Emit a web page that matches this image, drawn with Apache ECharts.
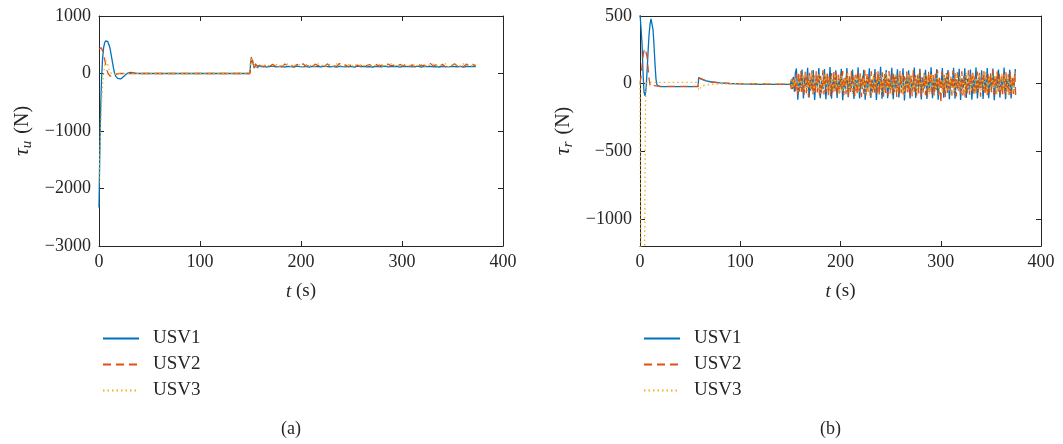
<!DOCTYPE html>
<html>
<head>
<meta charset="utf-8">
<script src="https://cdn.jsdelivr.net/npm/echarts@6/dist/echarts.min.js"></script>
<style>
  html, body { margin: 0; padding: 0; background: #fff; }
  #chart { width: 1063px; height: 444px; }
</style>
</head>
<body>
<div id="chart"></div>
<script>
// tick labels
const timeTicks = [0, 100, 200, 300, 400];
const tuTicks = [-3000, -2000, -1000, 0, 1000];
const trTicks = [-1000, -500, 0, 500];

// (a) tau_u : start-up transient and the step at t = 150 s, [t, value]
const tuUsv1Head = [[0,-2330],[0.7,-1500],[1.5,-700],[2.5,-100],[3.5,250],[4.5,440],[5.5,530],[6.5,565],[7.5,570],[8.5,560],[9.5,530],[10.5,470],[11.5,380],[12.5,280],[13.5,180],[14.5,80],[15.5,0],[16.5,-45],[17.5,-70],[18.5,-85],[20,-95],[21.5,-95],[23,-80],[25,-45],[27,-10],[29,10],[31,18],[33,15],[36,5],[40,0],[149.5,0],[150,150],[151,260],[152,200],[153,150],[154,100],[155,160],[156,130],[157,95],[158,140],[159,120]];
const tuUsv2Head = [[0,420],[1,440],[2,450],[3,430],[4,380],[5,300],[6,210],[7,120],[8,50],[9,0],[10,-30],[11,-45],[12,-50],[14,-40],[16,-20],[18,-5],[21,0],[149.5,0],[150,180],[151,300],[152,240],[153,150],[154,70],[155,170],[156,110],[157,150],[158,100],[159,145]];
const tuUsv3Head = [[0,-1900],[1,-1300],[2,-750],[3,-350],[4,-100],[5,60],[6,170],[7,220],[8,200],[9,140],[10,70],[11,20],[12,-10],[14,-20],[17,-5],[20,0],[149.5,0],[150,170],[151,280],[152,220],[153,120],[154,90],[155,160],[156,120],[157,140],[158,110],[159,135]];

// (a) tau_u : steady part, one value every 3 s from t = 160 s
const tuTailStart = 160, tuTailStep = 3;
const tuUsv1Tail = [118,125,112,122,128,115,120,126,110,124,119,113,127,121,116,123,111,125,118,122,114,128,120,117,124,112,126,119,115,123,121,110,127,118,124,116,120,113,125,122,117,128,114,121,119,126,111,123,118,124,115,120,127,112,122,118,125,116,121,113,126,119,114,123,120,117,124,111,122,118,125,120];
const tuUsv2Tail = [140,115,155,125,160,120,150,110,165,130,145,118,158,128,170,122,148,112,162,135,152,116,168,126,142,120,175,130,150,114,160,124,146,118,172,132,156,110,164,128,148,122,166,136,144,116,158,126,170,120,150,112,162,134,146,118,176,128,154,122,160,114,148,130,168,124,152,116,164,126,158,132];
const tuUsv3Tail = [130,160,120,150,135,165,118,155,128,170,125,148,138,162,115,158,132,145,122,168,136,152,118,160,128,172,124,146,140,156,120,164,134,150,126,168,116,154,138,160,122,148,132,170,128,156,118,162,136,150,124,166,130,158,120,152,142,164,126,148,134,170,118,156,130,160,124,168,138,150,128,155];

// (b) tau_r : start-up transient, step at t = 58 s, onset of chatter, [t, value]
const trUsv1Head = [[0,520],[1,520],[2,300],[3,80],[4,-60],[5,-90],[6,-40],[7,80],[8,230],[9,360],[10,440],[11,478],[12,470],[13,400],[14,280],[15,140],[16,30],[17,-10],[18,-20],[20,-22],[58,-22],[58.5,45],[60,35],[65,22],[70,14],[80,6],[90,1],[100,-2],[120,-5],[150,-6],[151,30],[152,-40],[153,50],[154,-60],[155,80]];
const trUsv2Head = [[0,0],[1,50],[2,130],[3,200],[4,245],[5,260],[6,250],[7,200],[8,120],[9,40],[10,-10],[11,-25],[12,-20],[14,-15],[20,-20],[58,-20],[58.5,40],[60,32],[70,12],[90,0],[150,-5],[151,-40],[152,40],[153,-30],[154,45],[155,-60]];
const trUsv3Head = [[0,0],[0.5,-700],[1,-1400],[4.5,-1400],[5,-700],[5.5,-150],[6,-20],[7,10],[10,10],[58,10],[58.5,-50],[62,-15],[70,-5],[90,0],[150,0],[151,25],[152,-30],[153,35],[154,-20],[155,40]];

// (b) tau_r : chatter from t = 156 s, each series with its own sample step
const trTailStart = 156;
const trUsv1Step = 1.4;
const trUsv1Tail = [
  112,-118,35,-30, 105,-110,42,-28, 118,-104,30,-38, 100,-120,45,-32, 115,-108,28,-40,
  108,-116,38,-26, 122,-112,32,-36, 98,-106,40,-30, 110,-122,26,-42, 116,-100,44,-34,
  104,-114,30,-28, 120,-110,36,-40, 102,-118,42,-32, 113,-105,28,-36, 108,-120,38,-30,
  125,-112,34,-44, 100,-108,30,-26, 117,-115,46,-38, 106,-102,32,-30, 114,-124,40,-34,
  99,-110,28,-42, 119,-106,36,-28, 110,-117,44,-36, 103,-113,30,-32, 121,-108,38,-40,
  107,-119,26,-30, 115,-104,42,-34, 101,-116,34,-28, 118,-111,30,-38, 109,-121,40,-32,
  113,-106,36,-44, 104,-118,28,-30, 120,-109,44,-36, 98,-114,32,-26, 116,-107,38,-40,
  111,-122,30,-34, 105,-103,42,-30, 119,-115,34,-38, 102,-110,40,-28, 108];
const trUsv2Step = 1.1;
const trUsv2Tail = [
  72,-85,90,-60,95,-78,55,-92,88,-70,64,-98,80,-52,96,-84,60,-76,92,-66,
  84,-94,58,-72,98,-80,70,-62,90,-88,52,-96,78,-68,86,-58,100,-82,66,-90,
  74,-56,94,-86,62,-78,88,-100,56,-70,96,-64,80,-92,68,-84,90,-54,76,-98,
  60,-74,98,-88,82,-60,70,-94,92,-66,58,-80,86,-72,100,-90,64,-58,84,-96,
  78,-68,56,-90,94,-76,66,-86,88,-62,72,-98,60,-84,96,-70,82,-92,54,-64,
  90,-80,68,-90,76,-94,98,-60,62,-88,84,-72,92,-96,58,-66,80,-86,70,-100,
  94,-62,86,-78,64,-92,72,-58,100,-84,56,-145,88,-74,66,-98,80,-68,90,-56,
  60,-86,96,-70,76,-94,84,-64,58,-80,92,-88,70,-100,62,-76,98,-82,74,-60,
  88,-92,54,-74,90,-66,80,-96,68,-58,96,-84,62,-90,78,-72,86,-64,100,-88,
  66,-78,92,-60,74,-98,58,-86,94,-70,84,-62,70,-94,88,-80,60,-76,82,-110];
const trUsv3Step = 1.6;
const trUsv3Tail = [
  40,-55,62,-35,70,-48,30,-66,58,-42,75,-60,45,-38,68,-72,52,-30,80,-50,
  36,-64,56,-46,72,-34,48,-70,62,-56,44,-40,85,-58,34,-76,66,-44,50,-62,
  74,-36,42,-68,60,-52,38,-80,70,-46,54,-34,64,-74,46,-58,90,-40,56,-66,
  32,-50,78,-62,48,-44,68,-84,40,-56,72,-38,58,-70,44,-64,82,-48,36,-60,
  66,-42,54,-76,70,-36,46,-58,88,-52,38,-68,62,-44,76,-60,50,-90,42,-54,
  70,-46,58,-64,34,-72,80,-40,52,-56,64,-84,44,-38,74,-62,56,-48,92,-66,
  48,-58,68,-36,60,-78,42,-54,76,-44,66,-100,50,-62,38,-70,84];

const FONT = 'Liberation Serif';
const INK = '#262626';
const COLORS = ['#0072BD', '#D95319', '#EDB120'];
const minus = v => String(v).replace('-', '\u2212');

function join(head, tail, start, step) {
  return head.concat(tail.map((v, i) => [+(start + i * step).toFixed(2), v]));
}

function xAxes(gridIndex) {
  const base = {
    gridIndex, type: 'value', min: 0, max: 400,
    axisLine: { show: true, onZero: false, lineStyle: { color: INK, width: 1 } },
    axisTick: { show: true, inside: true, length: 5, customValues: timeTicks, lineStyle: { color: INK } },
    splitLine: { show: false }
  };
  return [
    Object.assign({}, base, {
      position: 'bottom',
      axisLabel: { customValues: timeTicks, color: INK, fontFamily: FONT, fontSize: 18, margin: 7 },
      name: '{i|t} (s)', nameLocation: 'middle', nameGap: 36,
      nameTextStyle: { color: INK, fontFamily: FONT, fontSize: 19,
        rich: { i: { fontStyle: 'italic', fontFamily: FONT, fontSize: 19, color: INK } } }
    }),
    Object.assign({}, base, { position: 'top', axisLabel: { show: false } })
  ];
}

function yAxes(gridIndex, min, max, ticks, sub, gap) {
  const base = {
    gridIndex, type: 'value', min, max,
    axisLine: { show: true, onZero: false, lineStyle: { color: INK, width: 1 } },
    axisTick: { show: true, inside: true, length: 5, customValues: ticks, lineStyle: { color: INK } },
    splitLine: { show: false }
  };
  return [
    Object.assign({}, base, {
      position: 'left',
      axisLabel: { customValues: ticks, formatter: minus, color: INK, fontFamily: FONT, fontSize: 18, margin: 8 },
      name: '{t|\u03c4}{s|' + sub + '} (N)', nameLocation: 'middle', nameGap: gap,
      nameTextStyle: { color: INK, fontFamily: FONT, fontSize: 20,
        rich: {
          t: { fontStyle: 'italic', fontFamily: FONT, fontSize: 22, color: INK },
          s: { fontStyle: 'italic', fontFamily: FONT, fontSize: 15, color: INK, padding: [10, 2, 0, 0] }
        } }
    }),
    Object.assign({}, base, { position: 'right', axisLabel: { show: false } })
  ];
}

function lineSeries(name, idx, axis, data) {
  const types = ['solid', [8, 5], [1.5, 3]];
  return {
    name, type: 'line', data, xAxisIndex: axis, yAxisIndex: axis,
    symbol: 'none', animation: false, z: 2 + idx,
    lineStyle: { color: COLORS[idx], width: 1.3, type: types[idx] },
    itemStyle: { color: COLORS[idx] }
  };
}

function legend(left) {
  return {
    orient: 'vertical', left, top: 324, itemWidth: 36, itemHeight: 14, itemGap: 7,
    data: ['USV1', 'USV2', 'USV3'],
    itemStyle: { opacity: 0 },
    textStyle: { color: INK, fontFamily: FONT, fontSize: 19, padding: [0, 0, 0, 9] }
  };
}

const chart = echarts.init(document.getElementById('chart'));
chart.setOption({
  backgroundColor: '#fff',
  animation: false,
  grid: [
    { left: 99, top: 16, width: 404, height: 230 },
    { left: 640, top: 16, width: 401, height: 230 }
  ],
  xAxis: [].concat(xAxes(0), xAxes(1)),
  yAxis: [].concat(yAxes(0, -3000, 1000, tuTicks, 'u', 64), yAxes(1, -1200, 500, trTicks, 'r', 64)),
  legend: [legend(97), legend(638)],
  series: [
    lineSeries('USV1', 0, 0, join(tuUsv1Head, tuUsv1Tail, tuTailStart, tuTailStep)),
    lineSeries('USV2', 1, 0, join(tuUsv2Head, tuUsv2Tail, tuTailStart, tuTailStep)),
    lineSeries('USV3', 2, 0, join(tuUsv3Head, tuUsv3Tail, tuTailStart, tuTailStep)),
    lineSeries('USV1', 0, 2, join(trUsv1Head, trUsv1Tail, trTailStart, trUsv1Step)),
    lineSeries('USV2', 1, 2, join(trUsv2Head, trUsv2Tail, trTailStart, trUsv2Step)),
    lineSeries('USV3', 2, 2, join(trUsv3Head, trUsv3Tail, trTailStart, trUsv3Step))
  ],
  graphic: [
    { type: 'text', left: 281, top: 420, style: { text: '(a)', font: '18px "Liberation Serif"', fill: INK } },
    { type: 'text', left: 820, top: 420, style: { text: '(b)', font: '18px "Liberation Serif"', fill: INK } }
  ]
});
</script>
</body>
</html>
